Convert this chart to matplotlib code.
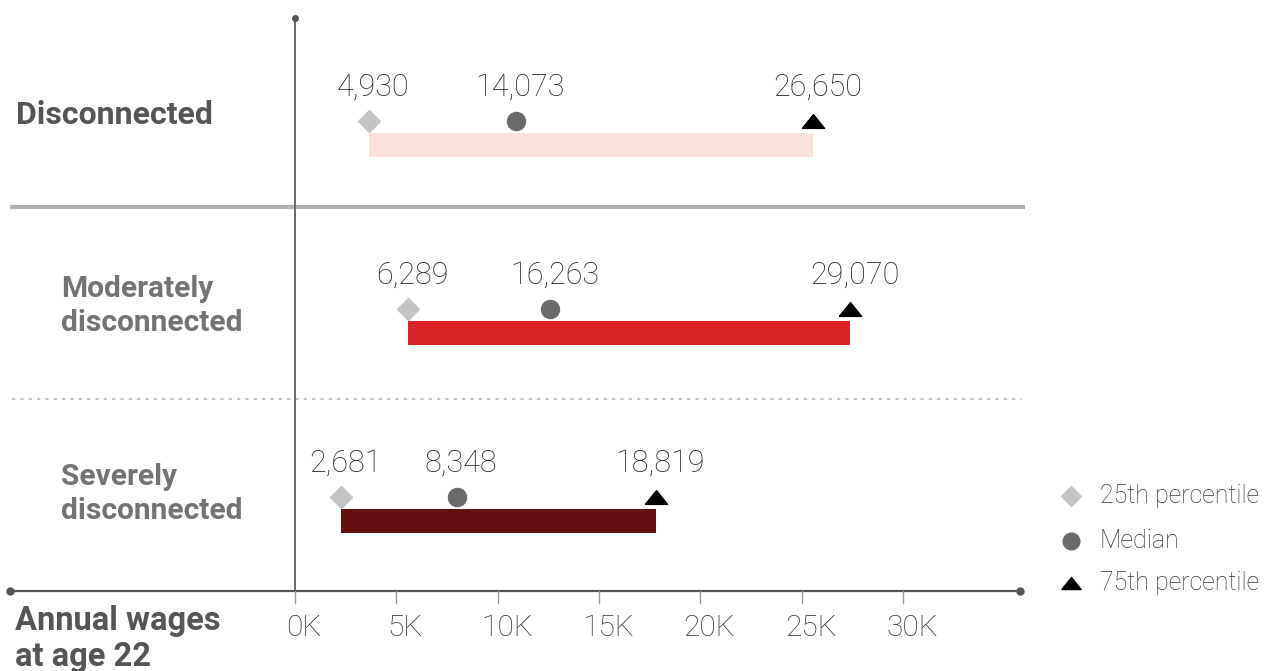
import matplotlib
matplotlib.use("Agg")
import matplotlib.pyplot as plt

# ---------------- data ----------------
categories = ["Disconnected", "Moderately\ndisconnected", "Severely\ndisconnected"]
# marker positions (thousands of dollars)
p25_pos = [3.63, 5.57, 2.27]
median_pos = [10.92, 12.60, 7.98]
p75_pos = [25.57, 27.40, 17.80]
# value labels printed above markers
p25_labels = ["4,930", "6,289", "2,681"]
median_labels = ["14,073", "16,263", "8,348"]
p75_labels = ["26,650", "29,070", "18,819"]
tick_values = [0, 5, 10, 15, 20, 25, 30]
tick_labels = ["0K", "5K", "10K", "15K", "20K", "25K", "30K"]
legend_labels = ["25th percentile", "Median", "75th percentile"]
axis_title = "Annual wages\nat age 22"

# ---------------- style ----------------
bar_colors = ["#fce0dc", "#d92326", "#650f0f"]
cat_colors = ["#555555", "#737373", "#737373"]
c_p25, c_med, c_p75 = "#c4c4c4", "#6a6a6a", "#000000"
FONT = ["Roboto", "DejaVu Sans"]
TRI = [(-1, -0.62), (1, -0.62), (0, 0.62), (-1, -0.62)]

W, H = 1274, 671
fig = plt.figure(figsize=(W / 100, H / 100), dpi=100)
ax = fig.add_axes([0, 0, 1, 1])
ax.set_axis_off()

# pixel layout helpers
x0_px, px_per_k = 295.0, 20.27
y0_px, px_per_cat = 145.0, 188.0
ax.set_xlim(-x0_px / px_per_k, (W - x0_px) / px_per_k)
ax.set_ylim((H - y0_px) / px_per_cat, -y0_px / px_per_cat)

def py(px):
    return (px - y0_px) / px_per_cat

def pxk(px):
    return (px - x0_px) / px_per_k

bar_h = 24 / px_per_cat
mk_off = 24 / px_per_cat
lab_off = 58 / px_per_cat

for i, cat in enumerate(categories):
    ax.barh(i, p75_pos[i] - p25_pos[i], left=p25_pos[i], height=bar_h,
            color=bar_colors[i], zorder=2)
    ax.plot(p25_pos[i], i - mk_off, marker="D", ms=11, color=c_p25, ls="none", zorder=3)
    ax.plot(median_pos[i], i - mk_off, marker="o", ms=13, color=c_med, ls="none", zorder=3)
    ax.plot(p75_pos[i], i - mk_off, marker=TRI, ms=16, color=c_p75, ls="none", zorder=3)
    for xv, lab in zip([p25_pos[i], median_pos[i], p75_pos[i]],
                       [p25_labels[i], median_labels[i], p75_labels[i]]):
        ax.text(xv + 0.2, i - lab_off, lab, ha="center", va="center",
                fontsize=22, color="#222222", family=FONT, fontweight="light")

# category labels
ax.text(pxk(16), 0 - 30 / px_per_cat, categories[0], ha="left", va="center",
        fontsize=23, fontweight="bold", color=cat_colors[0], family=FONT)
for i in (1, 2):
    ax.text(pxk(61), i - 27 / px_per_cat, categories[i], ha="left", va="center",
            fontsize=21.5, fontweight="bold", color=cat_colors[i], family=FONT,
            linespacing=1.3)

# separators
ax.plot([pxk(10), pxk(1025)], [py(207), py(207)], color="#b0b0b0", lw=3, zorder=1,
        solid_capstyle="butt")
ax.plot([pxk(12), pxk(1022)], [py(399), py(399)], color="#b8b8b8", lw=1.2,
        ls=(0, (2, 3)), zorder=1)

# vertical axis
ax.plot([0, 0], [py(18), py(591)], color="#6a6a6a", lw=1.4, zorder=1)
ax.plot(0, py(18), marker="o", ms=4, color="#555555")

# bottom axis
ax.plot([pxk(10), pxk(1020)], [py(591), py(591)], color="#555555", lw=1.6, zorder=1)
ax.plot([pxk(10), pxk(1020)], [py(591), py(591)], marker="o", ms=5, ls="none",
        color="#555555")
for tv, tl in zip(tick_values, tick_labels):
    ax.plot([tv, tv], [py(591), py(603)], color="#999999", lw=1)
    ax.text(tv + 0.45, py(628), tl, ha="center", va="center", fontsize=21.5,
            color="#333333", family=FONT, fontweight="light")

ax.text(pxk(15), py(639), axis_title, ha="left", va="center", fontsize=23.5,
        fontweight="bold", color="#555555", family=FONT, linespacing=1.15)

# legend
leg_y = [496, 541, 583]
leg_m = [("D", c_p25, 10), ("o", c_med, 12), (TRI, c_p75, 14)]
for yy, (m, c, s), lab in zip(leg_y, leg_m, legend_labels):
    ax.plot(pxk(1071), py(yy), marker=m, ms=s, color=c, ls="none")
    ax.text(pxk(1100), py(yy), lab, ha="left", va="center", fontsize=18,
            color="#333333", family=FONT, fontweight="light")

fig.savefig("out.png", dpi=100)
